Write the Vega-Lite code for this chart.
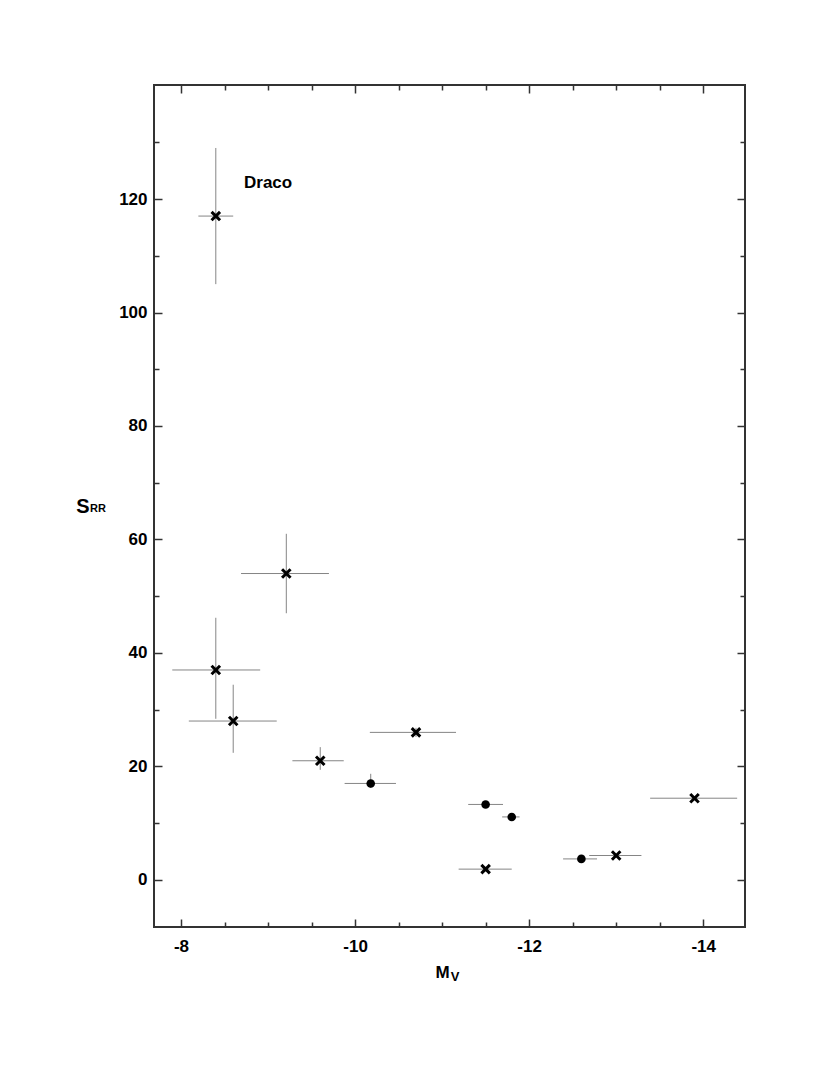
{
  "$schema": "https://vega.github.io/schema/vega-lite/v6.json",
  "width": 591,
  "height": 842,
  "padding": {"left": 75, "top": 84, "right": 5, "bottom": 5},
  "config": {
    "view": {"stroke": "#333", "strokeWidth": 2},
    "font": "Liberation Sans",
    "axis": {
      "grid": false,
      "domain": false,
      "tickColor": "#333",
      "tickWidth": 1.5,
      "labelFont": "Liberation Sans",
      "labelFontWeight": "bold",
      "labelFontSize": 17,
      "labelColor": "black",
      "titleFont": "Liberation Sans",
      "titleFontWeight": "bold",
      "titleColor": "black"
    }
  },
  "datasets": {
    "stars": [
      {"M": -8.40, "S": 117, "Mlo": -8.20, "Mhi": -8.60, "Slo": 105, "Shi": 129, "type": "x"},
      {"M": -9.21, "S": 54, "Mlo": -8.69, "Mhi": -9.70, "Slo": 47, "Shi": 61, "type": "x"},
      {"M": -8.40, "S": 37, "Mlo": -7.90, "Mhi": -8.91, "Slo": 28.4, "Shi": 46.2, "type": "x"},
      {"M": -8.60, "S": 28, "Mlo": -8.09, "Mhi": -9.10, "Slo": 22.4, "Shi": 34.4, "type": "x"},
      {"M": -9.60, "S": 21, "Mlo": -9.28, "Mhi": -9.87, "Slo": 19.4, "Shi": 23.4, "type": "x"},
      {"M": -10.18, "S": 17, "Mlo": -9.88, "Mhi": -10.47, "Slo": 16.2, "Shi": 18.7, "type": "o"},
      {"M": -10.70, "S": 26, "Mlo": -10.17, "Mhi": -11.16, "Slo": 25.2, "Shi": 26.8, "type": "x"},
      {"M": -11.50, "S": 13.3, "Mlo": -11.30, "Mhi": -11.70, "Slo": 13.3, "Shi": 13.3, "type": "o"},
      {"M": -11.80, "S": 11.1, "Mlo": -11.69, "Mhi": -11.89, "Slo": 11.1, "Shi": 11.1, "type": "o"},
      {"M": -11.50, "S": 1.9, "Mlo": -11.19, "Mhi": -11.80, "Slo": 1.9, "Shi": 1.9, "type": "x"},
      {"M": -12.60, "S": 3.7, "Mlo": -12.39, "Mhi": -12.78, "Slo": 3.7, "Shi": 3.7, "type": "o"},
      {"M": -13.00, "S": 4.3, "Mlo": -12.69, "Mhi": -13.29, "Slo": 4.3, "Shi": 4.3, "type": "x"},
      {"M": -13.90, "S": 14.4, "Mlo": -13.39, "Mhi": -14.39, "Slo": 14.4, "Shi": 14.4, "type": "x"}
    ],
    "labels": [
      {"label": "Draco"}
    ],
    "xsub": [
      {"label": "V"}
    ],
    "ysub": [
      {"label": "RR"}
    ]
  },
  "resolve": {"axis": {"x": "independent", "y": "independent"}},
  "layer": [
    {
      "data": {"name": "stars"},
      "mark": {"type": "rule", "color": "#858585", "strokeWidth": 1},
      "encoding": {
        "x": {
          "field": "Mlo", "type": "quantitative",
          "scale": {"domain": [-14.48, -7.69], "reverse": true, "nice": false, "zero": false},
          "axis": {
            "orient": "bottom",
            "values": [-8, -8.5, -9, -9.5, -10, -10.5, -11, -11.5, -12, -12.5, -13, -13.5, -14],
            "labelExpr": "datum.value % 2 === 0 ? '' + datum.value : ''",
            "tickSize": {"condition": {"test": "datum.value % 2 === 0", "value": -8}, "value": -5},
            "labelPadding": 19,
            "title": "M",
            "titleFontSize": 17,
            "titleAnchor": "start",
            "titleAlign": "center",
            "titleX": 288,
            "titleY": 50,
            "titleBaseline": "alphabetic"
          }
        },
        "x2": {"field": "Mhi"},
        "y": {
          "field": "S", "type": "quantitative",
          "scale": {"domain": [-8.3, 140.1], "nice": false, "zero": false},
          "axis": {
            "orient": "left",
            "values": [0, 10, 20, 30, 40, 50, 60, 70, 80, 90, 100, 110, 120, 130],
            "labelExpr": "datum.value % 20 === 0 ? '' + datum.value : ''",
            "tickSize": {"condition": {"test": "datum.value % 20 === 0", "value": -8}, "value": -5},
            "labelPadding": 15,
            "title": "S",
            "titleFontSize": 20,
            "titleAngle": 0,
            "titleAlign": "center",
            "titleBaseline": "alphabetic",
            "titleX": -71.5,
            "titleY": 427.5
          }
        }
      }
    },
    {
      "data": {"name": "stars"},
      "mark": {"type": "rule", "color": "#858585", "strokeWidth": 1},
      "encoding": {
        "x": {
          "field": "M", "type": "quantitative",
          "scale": {"domain": [-14.48, -7.69], "reverse": true, "nice": false, "zero": false},
          "axis": {
            "orient": "top",
            "values": [-8, -8.5, -9, -9.5, -10, -10.5, -11, -11.5, -12, -12.5, -13, -13.5, -14],
            "labels": false,
            "tickSize": {"condition": {"test": "datum.value % 2 === 0", "value": -8}, "value": -5},
            "title": null
          }
        },
        "y": {
          "field": "Slo", "type": "quantitative",
          "scale": {"domain": [-8.3, 140.1], "nice": false, "zero": false},
          "axis": {
            "orient": "right",
            "values": [0, 10, 20, 30, 40, 50, 60, 70, 80, 90, 100, 110, 120, 130],
            "labels": false,
            "tickSize": {"condition": {"test": "datum.value % 20 === 0", "value": -8}, "value": -5},
            "title": null
          }
        },
        "y2": {"field": "Shi"}
      }
    },
    {
      "data": {"name": "stars"},
      "mark": {"type": "point", "filled": true, "stroke": "black", "fill": "black", "opacity": 1},
      "encoding": {
        "x": {"field": "M", "type": "quantitative", "scale": {"domain": [-14.48, -7.69], "reverse": true, "nice": false, "zero": false}, "axis": null},
        "y": {"field": "S", "type": "quantitative", "scale": {"domain": [-8.3, 140.1], "nice": false, "zero": false}, "axis": null},
        "shape": {"field": "type", "type": "nominal", "scale": {"domain": ["x", "o"], "range": ["M-1,-1L1,1M-1,1L1,-1", "circle"]}, "legend": null},
        "size": {"field": "type", "type": "nominal", "scale": {"domain": ["x", "o"], "range": [72, 74]}, "legend": null},
        "strokeWidth": {"condition": {"test": "datum.type === 'x'", "value": 3}, "value": 0}
      }
    },
    {
      "data": {"name": "labels"},
      "mark": {"type": "text", "align": "left", "baseline": "alphabetic", "font": "Liberation Sans", "fontWeight": "bold", "fontSize": 17, "fill": "black"},
      "encoding": {
        "text": {"field": "label"},
        "x": {"datum": -8.724, "type": "quantitative", "axis": null},
        "y": {"datum": 121.9, "type": "quantitative", "axis": null}
      }
    },
    {
      "data": {"name": "xsub"},
      "mark": {"type": "text", "align": "left", "baseline": "alphabetic", "font": "Liberation Sans", "fontWeight": "bold", "fontSize": 13, "fill": "black"},
      "encoding": {
        "text": {"field": "label"},
        "x": {"datum": -11.1, "type": "quantitative", "axis": null},
        "y": {"datum": -17.9, "type": "quantitative", "axis": null}
      }
    },
    {
      "data": {"name": "ysub"},
      "mark": {"type": "text", "align": "left", "baseline": "alphabetic", "font": "Liberation Sans", "fontWeight": "bold", "fontSize": 11, "fill": "black"},
      "encoding": {
        "text": {"field": "label"},
        "x": {"datum": -6.955, "type": "quantitative", "axis": null},
        "y": {"datum": 64.8, "type": "quantitative", "axis": null}
      }
    }
  ]
}
